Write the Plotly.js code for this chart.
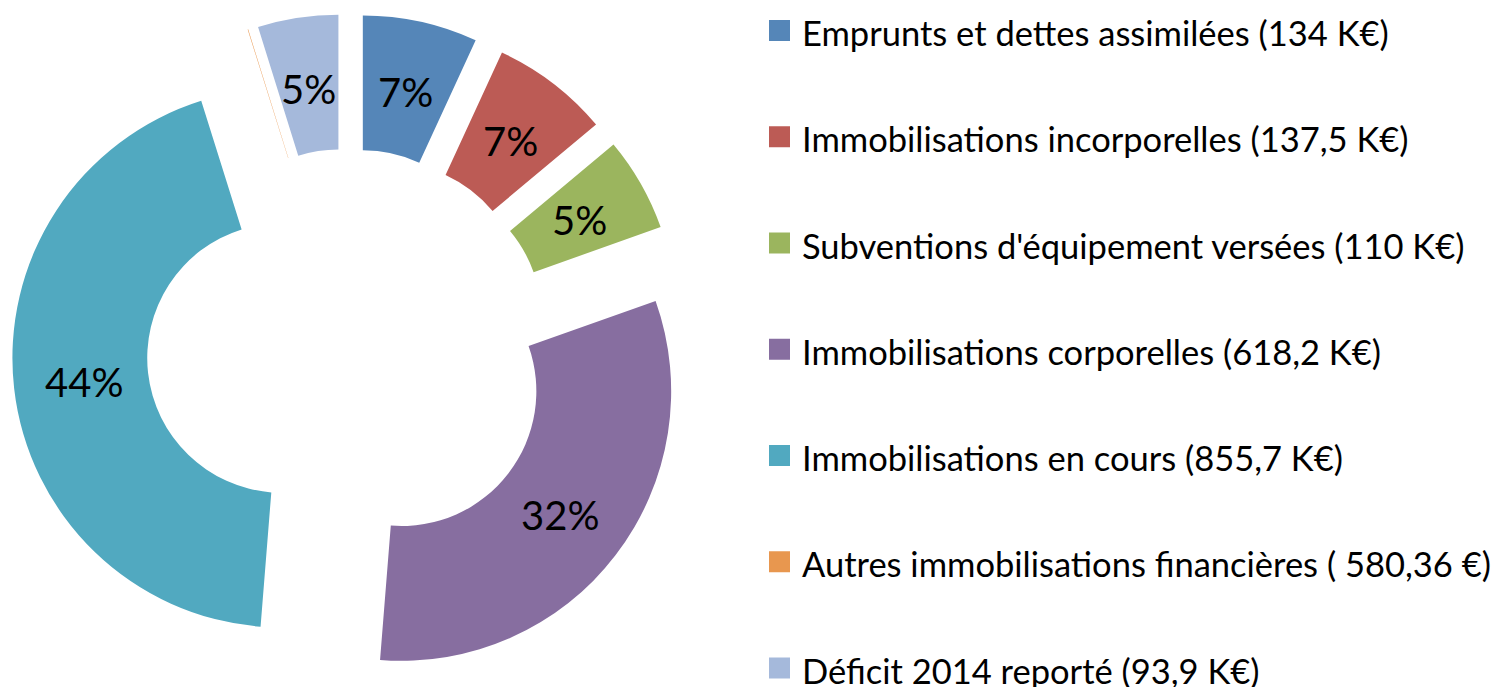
<!DOCTYPE html>
<html>
<head>
<meta charset="utf-8">
<script src="https://cdn.plot.ly/plotly-3.0.1.min.js"></script>
<style>html,body{margin:0;padding:0;background:#fff;}#chart{width:1496px;height:687px;}</style>
</head>
<body>
<div id="chart"></div>
<script>
// Data
var categories = [
  "Emprunts et dettes assimilées (134 K€)",
  "Immobilisations incorporelles (137,5 K€)",
  "Subventions d'équipement versées (110 K€)",
  "Immobilisations corporelles (618,2 K€)",
  "Immobilisations en cours (855,7 K€)",
  "Autres immobilisations financières ( 580,36 €)",
  "Déficit 2014 reporté (93,9 K€)"
];
var valuesK = [134, 137.5, 110, 618.2, 855.7, 0.58036, 93.9];
var pctLabels = ["7%", "7%", "5%", "32%", "44%", "", "5%"];
var colors = ["#5586B8", "#BC5B55", "#9BB55E", "#876EA0", "#51A9C0", "#E8974F", "#A5B9DB"];

var W = 1496, H = 687, MT = 14, MB = 0;
var HOLE = 0.5, PULL = 0.248, DOM_X = [0.008, 0.4579], DOM_Y = [0, 1];
function py(p) { return 1 - (p - MT) / (H - MT - MB); }
function px(p) { return p / W; }

var trace = {
  type: "pie",
  labels: categories,
  values: valuesK,
  textinfo: "none",
  hole: HOLE,
  pull: PULL,
  sort: false,
  direction: "clockwise",
  rotation: 0,
  marker: {colors: colors, line: {width: 0}},
  domain: {x: DOM_X, y: DOM_Y},
  showlegend: false,
  hoverinfo: "label+percent"
};

var annotations = [], shapes = [];

// percentage labels placed at the middle of each (pulled) ring segment,
// following the same geometry Plotly uses for the pie
var plotH = H - MT - MB;
var boxW = W * (DOM_X[1] - DOM_X[0]), boxH = plotH * (DOM_Y[1] - DOM_Y[0]);
var R = Math.min(boxW, boxH) / 2 / (1 + PULL);
var CX = W * (DOM_X[0] + DOM_X[1]) / 2;
var CY = MT + plotH * (1 - DOM_Y[0]) - boxH / 2;
var total = valuesK.reduce(function (a, b) { return a + b; }, 0);
var cum = 0;
for (var k = 0; k < valuesK.length; k++) {
  var a0 = cum / total * 2 * Math.PI;
  cum += valuesK[k];
  var a1 = cum / total * 2 * Math.PI;
  var am = (a0 + a1) / 2;
  var d = R * PULL + R * 0.74;
  var tx = CX + d * Math.sin(am), ty = CY - d * Math.cos(am) + 2;
  if (pctLabels[k]) {
    annotations.push({xref: "paper", yref: "paper", x: px(tx), y: py(ty),
      xanchor: "center", yanchor: "middle", showarrow: false, text: pctLabels[k],
      font: {family: "Lato, sans-serif", size: 40, color: "#000"}});
  }
}

// legend
var legendTop = 30.5, legendStep = 106.25, sq = 21;
for (var i = 0; i < categories.length; i++) {
  var yc = legendTop + i * legendStep;
  shapes.push({type: "rect", xref: "paper", yref: "paper",
    x0: px(769), x1: px(769 + sq), y0: py(yc - sq / 2), y1: py(yc + sq / 2),
    fillcolor: colors[i], line: {width: 0}});
  annotations.push({xref: "paper", yref: "paper", x: px(800), y: py(yc + 2),
    xanchor: "left", yanchor: "middle", showarrow: false, text: categories[i],
    font: {family: "Lato, sans-serif", size: 34.5, color: "#000"}});
}

var layout = {
  width: W, height: H,
  margin: {l: 0, r: 0, t: MT, b: MB},
  paper_bgcolor: "#fff",
  showlegend: false,
  annotations: annotations,
  shapes: shapes
};
Plotly.newPlot("chart", [trace], layout, {displayModeBar: false, staticPlot: true});
</script>
</body>
</html>
